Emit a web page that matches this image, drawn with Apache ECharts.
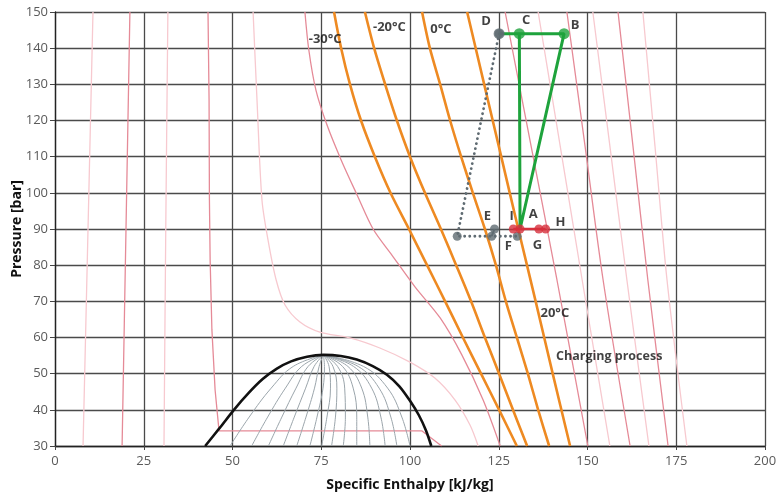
<!DOCTYPE html>
<html>
<head>
<meta charset="utf-8">
<script src="https://cdn.jsdelivr.net/npm/echarts@6/dist/echarts.min.js"></script>
<style>
  html, body { margin: 0; padding: 0; background: #fff; }
  #chart { width: 778px; height: 499px; }
</style>
</head>
<body>
<div id="chart"></div>
<script>
// Axis ticks
const enthalpyTicks = [0, 25, 50, 75, 100, 125, 150, 175, 200];
const pressureTicks = [30, 40, 50, 60, 70, 80, 90, 100, 110, 120, 130, 140, 150];

// Saturation dome [h, p]
const domeCurve = [
  [42.3, 30], [46.4, 35], [50.4, 40], [54.5, 44.6], [58.5, 48.5], [62.5, 51.4], [66.5, 53.4],
  [71, 54.7], [75.6, 55.2], [80.5, 54.9], [85, 53.9], [89.5, 52.1], [93.5, 49.7], [97, 46.5],
  [100, 42.5], [102.5, 38.5], [104.5, 34.3], [106, 30]
];

// Vapour-quality lines inside the dome, from the critical point down to 30 bar
const qualityLines = [
  [[75.6, 55.2], [67.1, 52], [60.9, 46], [54.7, 38], [49.3, 30]],
  [[75.6, 55.2], [69.5, 52], [64.9, 46], [59.9, 38], [55.4, 30]],
  [[75.6, 55.2], [71.3, 52], [67.9, 46], [63.9, 38], [60.1, 30]],
  [[75.6, 55.2], [73.0, 52], [70.6, 46], [67.4, 38], [64.3, 30]],
  [[75.6, 55.2], [74.4, 52], [73.1, 46], [70.7, 38], [68.1, 30]],
  [[75.6, 55.2], [75.9, 52], [75.5, 46], [73.8, 38], [71.8, 30]],
  [[75.6, 55.2], [77.2, 52], [77.6, 46], [76.6, 38], [75.1, 30]],
  [[75.6, 55.2], [78.3, 52], [79.4, 46], [79.0, 38], [77.9, 30]],
  [[75.6, 55.2], [79.6, 52], [81.6, 46], [81.8, 38], [81.2, 30]],
  [[75.6, 55.2], [81.0, 52], [84.0, 46], [85.0, 38], [85.0, 30]],
  [[75.6, 55.2], [82.5, 52], [86.4, 46], [88.1, 38], [88.7, 30]],
  [[75.6, 55.2], [84.1, 52], [89.2, 46], [91.8, 38], [93.0, 30]],
  [[75.6, 55.2], [85.4, 52], [91.3, 46], [94.6, 38], [96.3, 30]],
  [[75.6, 55.2], [86.9, 52], [93.7, 46], [97.7, 38], [100.0, 30]]
];

// Thin background isolines (pink), left to right
const isoP1 = [[10.7, 150], [9.3, 90], [7.9, 30]];
const isoP2 = [[21.1, 150], [20.0, 90], [18.9, 30]];
const isoP3 = [[31.8, 150], [31.2, 90], [30.7, 30]];
const isoP4 = [[43.1, 150], [43.4, 125.7], [43.5, 98], [43.7, 81.4], [44.2, 62.1], [45.1, 45.5],
               [46.2, 34.2], [103.3, 34.2], [108.9, 30]];
const isoP5 = [[55.8, 150], [56.9, 125.7], [58.3, 98], [60.0, 87.0], [62.3, 75.9], [64.8, 69.0],
               [69.0, 64.3], [74.6, 61.5], [83.1, 59.9], [91.5, 57.1], [100.0, 53.2], [107.0, 48.8],
               [112.7, 42.7], [116.9, 35.8], [119.2, 30]];
const isoP6 = [[70.4, 150], [71.5, 139.5], [73.5, 128.4], [76.6, 118.8], [80.6, 109.1], [85.1, 99.4],
               [89.6, 90.0], [94.9, 82.8], [101.4, 74.0], [108.5, 65.4], [114.6, 55.2], [120.6, 42.7],
               [125.4, 30]];
const isoR1 = [[126.8, 150], [134.1, 113], [141.4, 75.9], [150.1, 30]];
const isoR2 = [[136.1, 150], [142.3, 113], [148.5, 75.9], [156.3, 30]];
const isoR3 = [[144.2, 150], [149.3, 113], [154.4, 75.9], [162.0, 30]];
const isoR4 = [[151.5, 150], [156.3, 113], [161.1, 75.9], [167.3, 30]];
const isoR5 = [[158.6, 150], [162.8, 113], [167.0, 75.9], [172.7, 30]];
const isoR6 = [[165.6, 150], [169.0, 113], [172.4, 75.9], [178.0, 30]];

// Isotherms (orange)
const isoMinus30 = [[78.6, 150], [80.6, 140], [83.1, 130], [86.2, 120], [90.1, 110], [94.6, 99.8],
                    [99.7, 90], [104.8, 80], [109.9, 70], [114.9, 60], [120.0, 50], [125.1, 40], [130.1, 30]];
const isoMinus20 = [[87.3, 150], [89.9, 140], [93.0, 130], [96.3, 120], [100, 110], [104.2, 100],
                    [108.7, 90], [113.0, 80], [117.2, 70], [121.1, 60], [125.1, 50], [129.0, 40], [133.0, 30]];
const isoZero = [[103.4, 150], [105.6, 140], [108.5, 130], [111.3, 120], [114.4, 110], [117.7, 100],
                 [121.1, 90], [124.2, 80], [127.0, 70], [130.1, 60], [133.2, 50], [136.1, 40], [139.2, 30]];
const isoPlus20 = [[116.1, 150], [120.9, 130], [125.7, 110], [130.5, 90], [135.4, 70], [140.2, 50], [145.1, 30]];

// Process state points [h, p]
const pointA = [131.0, 90];
const pointB = [143.4, 144];
const pointC = [130.8, 144];
const pointD = [125.1, 144];
const pointE = [123.8, 90];
const pointF = [130.2, 88];
const pointG = [136.3, 90];
const pointH = [138.2, 90];
const pointI = [129.1, 90];
const throttleEnd = [113.3, 88];
const pointEBelow = [123.0, 88];

// Text annotations placed at [h, p]
const stateLabels = [
  ['D', [121.4, 147.3]], ['C', [132.7, 147.8]], ['B', [146.5, 146.4]],
  ['E', [121.8, 93.6]], ['I', [128.6, 93.4]], ['A', [134.7, 94.2]], ['H', [142.4, 91.9]],
  ['F', [127.7, 85.1]], ['G', [135.9, 85.4]]
];
const isothermLabels = [
  ['-30°C', [76.1, 142.5]], ['-20°C', [94.2, 145.9]], ['0°C', [108.7, 145.2]], ['20°C', [140.8, 66.7]]
];
const noteLabels = [['Charging process', [156.1, 54.8]]];

const FONT = '"Open Sans", "Noto Sans", sans-serif';
const PINK_DARK = '#e58a97';
const PINK_LIGHT = '#f7c9cf';
const ORANGE = '#ee8a22';
const GREEN = '#1ea33c';
const RED = '#d7303c';
const GREY_PT = '#5f6b72';

function line(data, color, width, extra) {
  return Object.assign({
    type: 'line', data: data, showSymbol: false, symbol: 'none', silent: true,
    smooth: 0.3, lineStyle: { color: color, width: width }, z: 2
  }, extra || {});
}

function textSeries(items, fontSize, z) {
  return {
    type: 'scatter', silent: true, symbolSize: 1, z: z || 10,
    itemStyle: { color: 'rgba(0,0,0,0)' },
    data: items.map(([t, v]) => ({ name: t, value: v })),
    label: {
      show: true, position: 'inside', formatter: p => p.name,
      fontFamily: FONT, fontWeight: 'bold', fontSize: fontSize, color: '#111'
    }
  };
}

function dots(points, color, size, z) {
  return {
    type: 'scatter', silent: true, symbol: 'circle', symbolSize: size, z: z || 8,
    itemStyle: { color: color }, data: points
  };
}

const series = [];
[[isoP1, PINK_LIGHT], [isoP2, PINK_DARK], [isoP3, PINK_LIGHT], [isoP4, PINK_DARK],
 [isoP5, PINK_LIGHT], [isoP6, PINK_DARK],
 [isoR1, PINK_DARK], [isoR2, PINK_LIGHT], [isoR3, PINK_DARK], [isoR4, PINK_LIGHT],
 [isoR5, PINK_DARK], [isoR6, PINK_LIGHT]].forEach(([d, c]) => {
  series.push(line(d, c, 1.3, { smooth: d === isoP4 ? false : 0.3 }));
});
qualityLines.forEach(q => series.push(line(q, '#9ba5ab', 1, { smooth: 0.4 })));
series.push(line(domeCurve, '#111', 2.6, { smooth: 0.3, z: 3 }));
[isoMinus30, isoMinus20, isoZero, isoPlus20].forEach(d => series.push(line(d, ORANGE, 2.6, { z: 4 })));

// Throttling / expansion path (dotted)
series.push(line([pointD, throttleEnd, pointF], GREY_PT, 2.6, {
  smooth: false, z: 5, lineStyle: { color: GREY_PT, width: 2.8, type: [0.1, 5], cap: 'round' }
}));
series.push(line([pointEBelow, pointE], GREY_PT, 2, { smooth: false, z: 5 }));
// Charging path
series.push(line([pointD, pointC, pointB, pointA, pointC], GREEN, 3, { smooth: false, z: 6 }));
series.push(line([pointI, pointH], RED, 2.6, { smooth: false, z: 6 }));

series.push(dots([pointD, throttleEnd, pointEBelow, pointE, pointF], GREY_PT, 9, 8));
series.push(dots([pointD], GREY_PT, 11, 8));
series.push(dots([pointC, pointB], GREEN, 11, 9));
series.push(dots([pointI, pointA, pointG, pointH], RED, 9, 9));

series.push(textSeries(stateLabels, 13));
series.push(textSeries(isothermLabels, 13));
series.push(textSeries(noteLabels, 12.5));

const chart = echarts.init(document.getElementById('chart'), null, { renderer: 'canvas' });
chart.setOption({
  animation: false,
  backgroundColor: '#fff',
  grid: { left: 55, right: 13, top: 12, bottom: 53, containLabel: false, outerBoundsMode: 'none' },
  xAxis: {
    type: 'value',
    min: enthalpyTicks[0], max: enthalpyTicks[enthalpyTicks.length - 1],
    interval: enthalpyTicks[1] - enthalpyTicks[0],
    name: 'Specific Enthalpy [kJ/kg]', nameLocation: 'middle', nameGap: 32, nameMoveOverlap: false,
    nameTextStyle: { fontFamily: FONT, fontWeight: 'bold', fontSize: 14, color: '#111' },
    axisLine: { show: true, onZero: false, lineStyle: { color: '#222', width: 1.3 } },
    axisTick: { show: true, length: 4, lineStyle: { color: '#444' } },
    axisLabel: { margin: 9, fontFamily: FONT, fontSize: 13, color: '#5a5a5a' },
    splitLine: { show: true, lineStyle: { color: '#4a4a4a', width: 1.3 } }
  },
  yAxis: {
    type: 'value',
    min: pressureTicks[0], max: pressureTicks[pressureTicks.length - 1],
    interval: pressureTicks[1] - pressureTicks[0],
    name: 'Pressure [bar]', nameLocation: 'middle', nameGap: 31, nameRotate: 90, nameMoveOverlap: false,
    nameTextStyle: { fontFamily: FONT, fontWeight: 'bold', fontSize: 14, color: '#111' },
    axisLine: { show: true, onZero: false, lineStyle: { color: '#222', width: 1.3 } },
    axisTick: { show: true, length: 5, lineStyle: { color: '#444' } },
    axisLabel: { margin: 7, fontFamily: FONT, fontSize: 13, color: '#5a5a5a' },
    splitLine: { show: true, lineStyle: { color: '#4a4a4a', width: 1.3 } }
  },
  series: series
});
</script>
</body>
</html>
